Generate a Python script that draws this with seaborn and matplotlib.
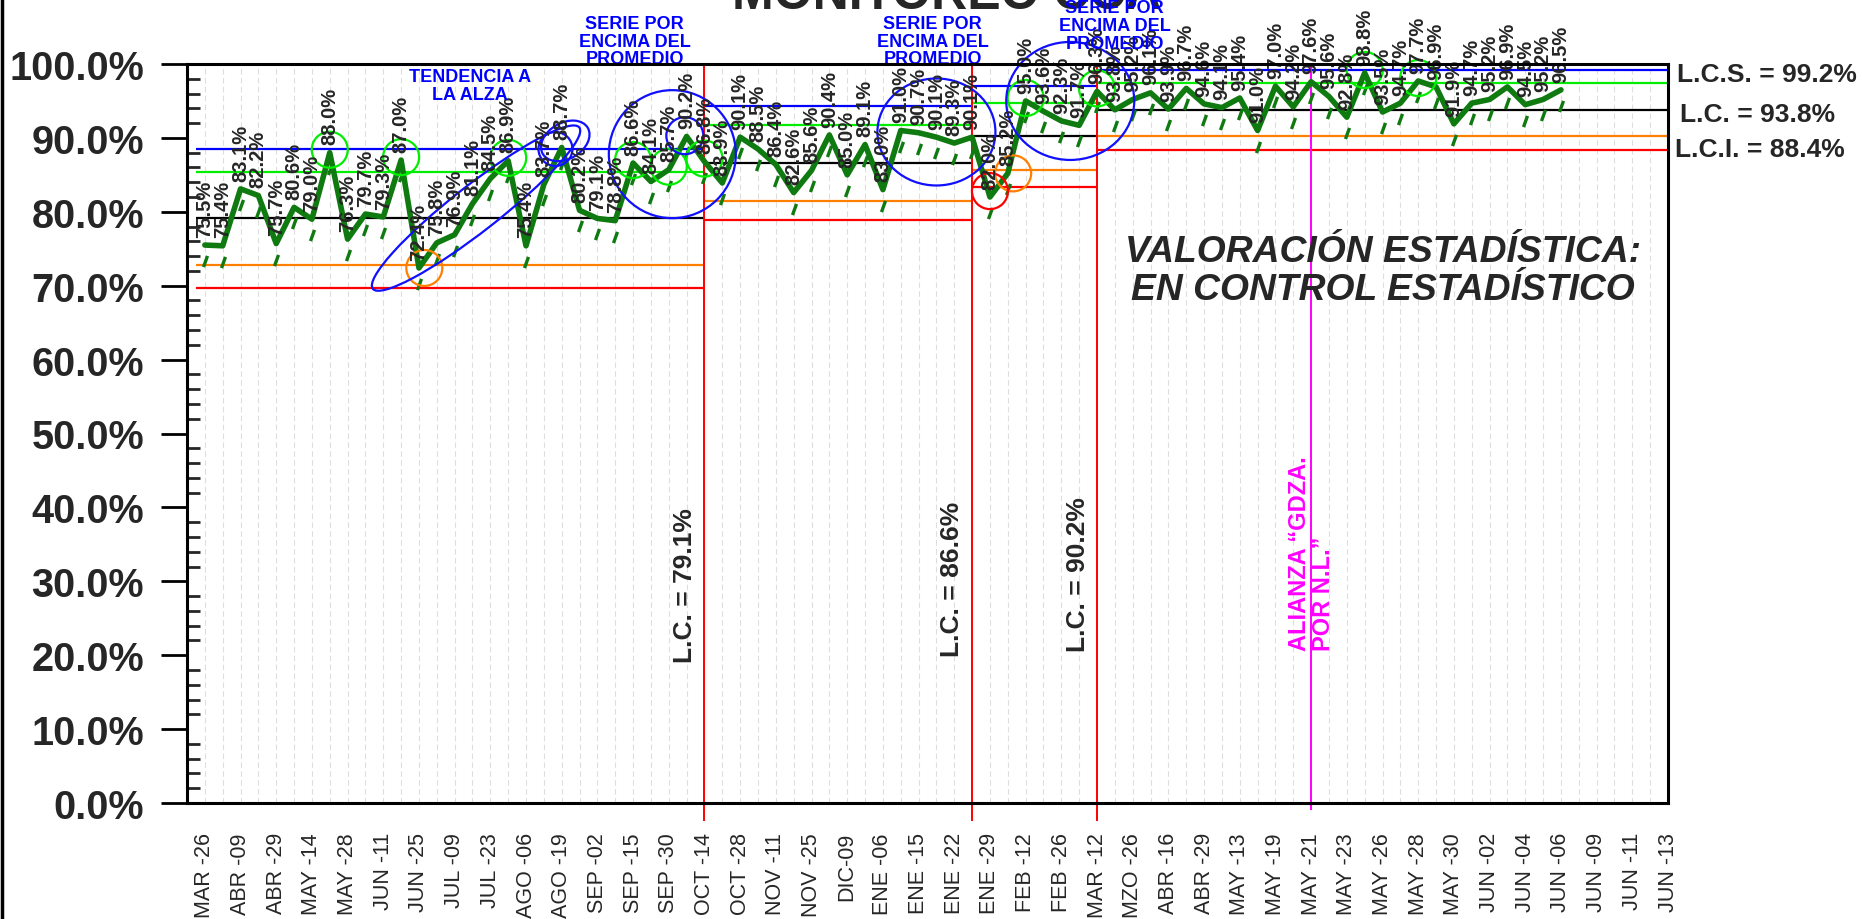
import matplotlib
matplotlib.use('Agg')
import matplotlib.pyplot as plt
import matplotlib.transforms as mtransforms
from matplotlib.patches import Ellipse
from matplotlib.path import Path
from matplotlib.lines import Line2D
from matplotlib.ticker import MultipleLocator
import seaborn as sns
import pandas as pd

# etiquetas del eje x (una cada dos cortes)
fechas = ['MAR -26', 'ABR -09', 'ABR -29', 'MAY -14', 'MAY -28', 'JUN -11', 'JUN -25',
          'JUL -09', 'JUL -23', 'AGO -06', 'AGO -19', 'SEP -02', 'SEP -15', 'SEP -30',
          'OCT -14', 'OCT -28', 'NOV -11', 'NOV -25', 'DIC-09', 'ENE -06', 'ENE -15',
          'ENE -22', 'ENE -29', 'FEB -12', 'FEB -26', 'MAR -12', 'MZO -26', 'ABR -16',
          'ABR -29', 'MAY -13', 'MAY -19', 'MAY -21', 'MAY -23', 'MAY -26', 'MAY -28',
          'MAY -30', 'JUN -02', 'JUN -04', 'JUN -06', 'JUN -09', 'JUN -11', 'JUN -13']

# porcentaje por corte
valores = [75.5, 75.4, 83.1, 82.2, 75.7, 80.6, 79.0, 88.0, 76.3, 79.7,
           79.3, 87.0, 72.4, 75.8, 76.9, 81.1, 84.5, 86.9, 75.4, 83.7,
           88.7, 80.2, 79.1, 78.8, 86.6, 84.1, 85.7, 90.2, 86.8, 83.9,
           90.1, 88.5, 86.4, 82.6, 85.6, 90.4, 85.0, 89.1, 83.0, 91.0,
           90.7, 90.1, 89.3, 90.1, 82.0, 85.2, 95.0, 93.6, 92.3, 91.7,
           96.3, 93.8, 95.2, 96.1, 93.9, 96.7, 94.6, 94.1, 95.4, 91.0,
           97.0, 94.2, 97.6, 95.6, 92.8, 98.8, 93.5, 94.7, 97.7, 96.9,
           91.9, 94.7, 95.2, 96.9, 94.5, 95.2, 96.5]

# fases del grafico de control
inicio_fase = [0, 28, 43, 50]
lc = [79.1, 86.6, 90.2, 93.8]
lcs = [88.5, 94.3, 97.0, 99.2]
lci = [69.7, 78.9, 83.4, 88.4]
sup_2s = [85.4, 91.7, 94.7, 97.4]
inf_2s = [72.8, 81.5, 85.7, 90.2]
alianza = 62
n_cortes = 83

# puntos marcados
verdes = [7, 11, 17, 24, 26, 28, 46, 50, 65, 68]
naranjas = [12, 45]
rojos = [44]

VERDE = '#0f7a0f'

sns.set_style('white')
plt.rcParams['font.family'] = ['Liberation Sans', 'DejaVu Sans']

fig = plt.figure(figsize=(18.62, 9.2), dpi=100)
ax = fig.add_axes([187 / 1862, 116 / 920, 1481 / 1862, 739 / 920])

df = pd.DataFrame({'pos': range(len(valores)), 'valor': valores})

# lineas de control por fase
x_ini = [-0.5] + inicio_fase[1:]
x_fin = inicio_fase[1:] + [n_cortes - 1]
ax.hlines(lcs, x_ini, x_fin, color='#0000ff', lw=1.6, zorder=2)
ax.hlines(sup_2s, x_ini, x_fin, color='#00ee00', lw=1.6, zorder=2)
ax.hlines(lc, x_ini, x_fin, color='black', lw=1.6, zorder=2)
ax.hlines(inf_2s, x_ini, x_fin, color='#ff8000', lw=1.6, zorder=2)
ax.hlines(lci, x_ini, x_fin, color='#ff0000', lw=1.6, zorder=2)
ax.vlines(inicio_fase[1:], -2.5, 100, color='#ff0000', lw=1.4, zorder=3, clip_on=False)
ax.vlines([alianza], -1, 100, color='#ff00ff', lw=1.4, zorder=3, clip_on=False)

sns.lineplot(data=df, x='pos', y='valor', color=VERDE, lw=4, ax=ax, zorder=5)

# marcas inclinadas bajo cada punto
barra = Path([(-0.18, -0.5), (0.18, 0.5)], [Path.MOVETO, Path.LINETO])
baja = mtransforms.ScaledTranslation(0, -0.16, fig.dpi_scale_trans)
ax.plot(df['pos'], df['valor'], ls='none', marker=barra, ms=8, mec=VERDE, mew=2.4,
        transform=ax.transData + baja, zorder=4)

for i, v in enumerate(valores):
    ax.annotate(f'{v:.1f}%', (i, v), xytext=(0, 6), textcoords='offset points',
                rotation=90, ha='center', va='bottom', fontsize=14.5, fontweight='bold',
                zorder=7, annotation_clip=False)


def ovalo(x, y, w, h, ang, color, lw=1.6):
    tr = mtransforms.Affine2D() + mtransforms.ScaledTranslation(x, y, ax.transData)
    ax.add_patch(Ellipse((0, 0), w, h, angle=ang, transform=tr, fill=False,
                         edgecolor=color, linewidth=lw, clip_on=False, zorder=6))


for i in verdes:
    ovalo(i, valores[i] + 0.4, 36, 36, 0, '#00ee00')
for i in naranjas:
    ovalo(i + 0.3, valores[i], 36, 36, 0, '#ff8000')
for i in rojos:
    ovalo(i, valores[i] + 0.8, 36, 36, 0, '#ff0000')

azul = '#1010ff'
ovalo(15.2, 80.5, 262, 46, 38, azul)
ovalo(19.65, 88.5, 34, 34, 0, azul)
ovalo(20.2, 89.6, 52, 36, 30, azul)
ovalo(26.2, 87.8, 127, 128, 0, azul)
ovalo(26.9, 90.3, 37, 37, 0, azul)
ovalo(41.0, 90.8, 118, 107, 0, azul)
ovalo(48.5, 95.0, 128, 118, 0, azul)

# textos azules
kw = dict(color='#0000ff', fontsize=13, fontweight='bold', ha='center', va='center',
          linespacing=1.05, zorder=8, clip_on=False)
ax.text(14.85, 97.1, 'TENDENCIA A\nLA ALZA', **kw)
ax.text(24.1, 103.1, 'SERIE POR\nENCIMA DEL\nPROMEDIO', **kw)
ax.text(40.8, 103.1, 'SERIE POR\nENCIMA DEL\nPROMEDIO', **kw)
ax.text(51.0, 105.2, 'SERIE POR\nENCIMA DEL\nPROMEDIO', **kw)

# leyendas de linea central por fase
for xp, yp, t in [(26.9, 29.5, 'L.C. = 79.1%'), (41.9, 30.4, 'L.C. = 86.6%'),
                  (48.95, 31.0, 'L.C. = 90.2%')]:
    ax.text(xp, yp, t, rotation=90, ha='center', va='center', fontsize=19,
            fontweight='bold', zorder=8)

ax.text(alianza, 20.7, 'ALIANZA \u201cGDZA.\nPOR N.L.\u201d', rotation=90, ha='center',
        va='bottom', multialignment='left', color='#ff00ff', fontsize=17,
        fontweight='bold', linespacing=1.05, zorder=8)

ax.text(66.0, 72.1, 'VALORACIÓN ESTADÍSTICA:\nEN CONTROL ESTADÍSTICO', ha='center',
        va='center', fontsize=26.8, fontweight='bold', fontstyle='italic', linespacing=1.12,
        zorder=8)

# limites de la fase actual a la derecha
tr_der = mtransforms.blended_transform_factory(ax.transAxes, ax.transData)
ax.text(1.006, 98.6, 'L.C.S. = 99.2%', transform=tr_der, ha='left', va='center',
        fontsize=19, fontweight='bold', clip_on=False)
ax.text(1.008, 93.2, 'L.C. = 93.8%', transform=tr_der, ha='left', va='center',
        fontsize=19, fontweight='bold', clip_on=False)
ax.text(1.005, 88.5, 'L.C.I. = 88.4%', transform=tr_der, ha='left', va='center',
        fontsize=19, fontweight='bold', clip_on=False)

# ejes
ax.set_xlim(-1, n_cortes - 1)
ax.set_ylim(0, 100)
pos_ticks = list(range(-1, n_cortes))
etiquetas = ['' if (p < 0 or p % 2) else fechas[p // 2] for p in pos_ticks]
ax.set_xticks(pos_ticks)
ax.set_xticklabels(etiquetas, rotation=90, fontsize=15.5)
ax.set_yticks(range(0, 101, 10))
ax.set_yticklabels([f'{v:.1f}%' for v in range(0, 101, 10)], fontsize=28.5, fontweight='bold')
ax.yaxis.set_minor_locator(MultipleLocator(2))
ax.tick_params(axis='x', direction='out', length=17, width=2, pad=4, color='black')
ax.tick_params(axis='y', which='major', direction='out', length=19, width=2, pad=12,
               color='black', left=True)
ax.tick_params(axis='y', which='minor', direction='in', length=9.5, width=2, left=True)
ax.xaxis.grid(True, color='#dedede', linestyle=(0, (5, 3)), lw=0.8)
ax.yaxis.grid(False)
ax.set_xlabel('')
ax.set_ylabel('')
for s in ax.spines.values():
    s.set_visible(True)
    s.set_color('black')
    s.set_linewidth(2.2)
    s.set_zorder(9)

fig.text(947 / 1862, 1 - 9 / 920, 'MONITOREO CCA', ha='center', va='baseline',
         fontsize=36, fontweight='bold', zorder=-1)
fig.add_artist(Line2D([0.0012, 0.0012], [0, 1], transform=fig.transFigure, color='black',
                      lw=2.5))

fig.savefig('out.png', dpi=100)
